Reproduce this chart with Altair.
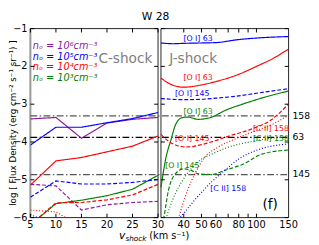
import altair as alt
import pandas as pd

W_L, GAP, W_R, H = 131, 3, 131, 194
W = W_L + GAP + W_R
YDOM = [-6, -1]

# ---------------- data: C-shock (left panel) ----------------
C_V = [5, 10, 15, 20, 25, 30]
C_N6_OI63 = [-3.39, -3.35, -3.90, -3.50, -3.40, -3.35]
C_N5_OI63 = [-4.08, -3.61, -3.61, -3.49, -3.38, -3.22]
C_N4_OI63 = [-5.14, -4.50, -4.41, -4.26, -4.11, -3.84]
C_N3_OI63 = [-6.19, -5.63, -5.54, -5.42, -5.25, -4.88]
C_N6_OI145 = [-5.12, -5.16, -5.80, -5.66, -5.60, -5.57]
C_N5_OI145 = [-5.46, -5.03, -5.11, -5.11, -5.07, -4.99]
C_N4_OI145 = [-6.19, -5.61, -5.60, -5.53, -5.40, -5.12]
C_N4_CII_V = [5, 10, 15]
C_N4_CII = [-5.80, -5.85, -6.25]
C_N5_CII_V = [5, 10]
C_N5_CII = [-5.92, -6.20]

# ---------------- data: J-shock (right panel) ----------------
J_N5_OI63_V = [30, 35, 40, 50, 60, 80, 100, 150]
J_N5_OI63 = [-1.38, -1.40, -1.39, -1.38, -1.37, -1.29, -1.25, -1.21]
J_N4_OI63_V = [30, 35, 40, 50, 60, 80, 100, 120, 150]
J_N4_OI63 = [-2.31, -2.50, -2.55, -2.49, -2.40, -2.21, -2.00, -1.82, -1.54]
J_N5_OI145_V = [30, 40, 50, 60, 80, 100, 150]
J_N5_OI145 = [-2.85, -2.88, -2.87, -2.84, -2.78, -2.71, -2.59]
J_N3_OI63_V = [30, 32, 34, 36, 39, 42, 48, 57, 67, 85, 110, 150]
J_N3_OI63 = [-5.20, -4.40, -3.95, -3.55, -3.36, -3.34, -3.40, -3.34, -3.17, -2.99, -2.82, -2.65]
J_N4_OI145_V = [30, 33, 39, 42, 50, 60, 70, 96, 120, 150]
J_N4_OI145 = [-3.80, -3.98, -4.12, -4.13, -4.07, -3.96, -3.85, -3.64, -3.42, -2.99]
J_N3_OI145_V = [30.5, 31, 33, 36, 40, 44, 48, 57, 67, 85, 107, 150]
J_N3_OI145 = [-6.20, -6.04, -5.27, -4.84, -4.71, -4.75, -4.84, -4.86, -4.75, -4.58, -4.32, -4.21]
J_N4_CII_V = [37, 42, 46, 52, 61, 79, 97, 120, 150]
J_N4_CII = [-6.10, -5.27, -4.84, -4.41, -4.15, -3.89, -3.72, -3.55, -3.29]
J_N3_CII_V = [31.5, 36, 40.5, 48.5, 57, 69, 96, 150]
J_N3_CII = [-6.10, -5.36, -4.93, -4.50, -4.32, -4.15, -3.98, -3.85]
J_N5_CII_V = [37.5, 46, 57, 69, 80, 100, 150]
J_N5_CII = [-6.05, -5.53, -5.05, -4.70, -4.45, -4.22, -4.05]

# observed fluxes (dash-dot lines)
OBS_LABELS = ["158", "63", "145"]
OBS_FLUX = [-3.31, -3.88, -4.86]
OBS_COLORS = ["#555555", "#000000", "#555555"]

# legend
LEG_TEXT = ["nₒ = 10⁶cm⁻³", "nₒ = 10⁵cm⁻³", "nₒ = 10⁴cm⁻³", "nₒ = 10³cm⁻³"]
LEG_Y = [-1.46, -1.75, -2.03, -2.31]

# line labels in J-shock panel
LBL_TEXT = ["[O I] 63", "[O I] 63", "[O I] 145", "[O I] 63", "[O I] 145",
            "[C II] 158", "[C II] 158", "[O I] 145", "[C II] 158"]
LBL_V = [47.9, 47.9, 44.5, 47.9, 44.5, 120, 120, 39.3, 70]
LBL_Y = [-1.28, -2.31, -2.73, -3.22, -3.91, -3.65, -3.91, -4.63, -5.25]

PURPLE, BLUE, RED, GREEN = "#8b1a9b", "#0000ff", "#ff0000", "#008000"
LBL_COLORS = [BLUE, RED, BLUE, GREEN, RED, RED, GREEN, GREEN, BLUE]
LEG_COLORS = [PURPLE, BLUE, RED, GREEN]

Y_TICKS = [-6, -5, -4, -3, -2, -1]
LEFT_XTICKS = [5, 10, 15, 20, 25, 30]
RIGHT_XLABELS = [40, 50, 60, 80, 100, 150]
RIGHT_XTICKS = [40, 50, 60, 70, 80, 90, 100]

DASHES = {"solid": [1, 0], "dashed": [4, 2], "dotted": [1, 2]}


def series(name, v, y, color, dash):
    return pd.DataFrame({"v": v, "flux": y, "series": name, "color": color,
                         "dash": dash, "order": list(range(len(v)))})


left_df = pd.concat([
    series("c6_63", C_V, C_N6_OI63, PURPLE, "solid"),
    series("c5_63", C_V, C_N5_OI63, BLUE, "solid"),
    series("c4_63", C_V, C_N4_OI63, RED, "solid"),
    series("c3_63", C_V, C_N3_OI63, GREEN, "solid"),
    series("c6_145", C_V, C_N6_OI145, PURPLE, "dashed"),
    series("c5_145", C_V, C_N5_OI145, BLUE, "dashed"),
    series("c4_145", C_V, C_N4_OI145, RED, "dashed"),
    series("c4_158", C_N4_CII_V, C_N4_CII, RED, "dotted"),
    series("c5_158", C_N5_CII_V, C_N5_CII, BLUE, "dotted"),
], ignore_index=True)

right_df = pd.concat([
    series("j5_63", J_N5_OI63_V, J_N5_OI63, BLUE, "solid"),
    series("j4_63", J_N4_OI63_V, J_N4_OI63, RED, "solid"),
    series("j3_63", J_N3_OI63_V, J_N3_OI63, GREEN, "solid"),
    series("j5_145", J_N5_OI145_V, J_N5_OI145, BLUE, "dashed"),
    series("j4_145", J_N4_OI145_V, J_N4_OI145, RED, "dashed"),
    series("j3_145", J_N3_OI145_V, J_N3_OI145, GREEN, "dashed"),
    series("j4_158", J_N4_CII_V, J_N4_CII, RED, "dotted"),
    series("j3_158", J_N3_CII_V, J_N3_CII, GREEN, "dotted"),
    series("j5_158", J_N5_CII_V, J_N5_CII, BLUE, "dotted"),
], ignore_index=True)

obs_df = pd.DataFrame({"flux": OBS_FLUX, "label": OBS_LABELS, "color": OBS_COLORS})
leg_df = pd.DataFrame({"v": [5.45] * 4, "flux": LEG_Y, "text": LEG_TEXT, "color": LEG_COLORS})
lbl_df = pd.DataFrame({"v": LBL_V, "flux": LBL_Y, "text": LBL_TEXT, "color": LBL_COLORS})
one = pd.DataFrame({"a": [0]})

ysc = alt.Scale(domain=YDOM, nice=False, zero=False)
xl_s = alt.Scale(domain=[5, 30], range=[0, W_L], nice=False, zero=False)
xr_s = alt.Scale(type="log", domain=[30, 150], range=[W_L + GAP, W], nice=False)

Y = alt.Y("flux:Q", scale=ysc, axis=None)
XL = alt.X("v:Q", scale=xl_s, axis=None)
XR = alt.X("v:Q", scale=xr_s, axis=None)


def line_layers(df, x_enc, interp):
    out = []
    for d, pat in DASHES.items():
        sub = df[df["dash"] == d]
        out.append(alt.Chart(sub).mark_line(clip=True, strokeWidth=1.2, strokeDash=pat,
                                            interpolate=interp).encode(
            x=x_enc, y=Y, detail="series:N",
            color=alt.Color("color:N", scale=None), order="order:Q"))
    return out


layers = []

# frames
for x0, x1 in [(0, W_L), (W_L + GAP, W)]:
    layers.append(alt.Chart(one).mark_rect(fillOpacity=0, stroke="#222", strokeWidth=1).encode(
        x=alt.value(x0), x2=alt.value(x1), y=alt.value(0), y2=alt.value(H)))
layers.append(alt.Chart(one).mark_rule(color="#9a9a9a", strokeWidth=2).encode(
    x=alt.value(0), y=alt.value(0), y2=alt.value(H)))

# observed dash-dot lines
layers.append(alt.Chart(obs_df).mark_rule(strokeWidth=1.3, strokeDash=[7, 2.5, 1.5, 2.5]).encode(
    y=Y, x=alt.value(0), x2=alt.value(W), color=alt.Color("color:N", scale=None)))
layers.append(alt.Chart(obs_df).mark_text(align="left", baseline="middle", fontSize=9.5,
                                          color="#000").encode(
    y=Y, x=alt.value(W + 4), text="label:N"))

# model lines
layers += line_layers(left_df, XL, "linear")
layers += line_layers(right_df, XR, "monotone")

# legend & annotations
layers.append(alt.Chart(leg_df).mark_text(align="left", baseline="middle", fontSize=10,
                                          fontStyle="italic").encode(
    x=XL, y=Y, text="text:N", color=alt.Color("color:N", scale=None)))
layers.append(alt.Chart(pd.DataFrame({"v": [23.6], "flux": [-1.82], "t": ["C-shock"]})).mark_text(
    fontSize=14, color="#808080", baseline="middle").encode(x=XL, y=Y, text="t:N"))
layers.append(alt.Chart(pd.DataFrame({"v": [45], "flux": [-1.82], "t": ["J-shock"]})).mark_text(
    fontSize=14, color="#808080", baseline="middle").encode(x=XR, y=Y, text="t:N"))
layers.append(alt.Chart(pd.DataFrame({"v": [118.8], "flux": [-5.66], "t": ["(f)"]})).mark_text(
    fontSize=14, color="#000", baseline="middle").encode(x=XR, y=Y, text="t:N"))
layers.append(alt.Chart(lbl_df).mark_text(fontSize=8, baseline="middle").encode(
    x=XR, y=Y, text="text:N", color=alt.Color("color:N", scale=None)))

# inward ticks
lxt = pd.DataFrame({"v": LEFT_XTICKS})
rxt = pd.DataFrame({"v": RIGHT_XTICKS})
lyt = pd.DataFrame({"flux": Y_TICKS})
for df_, xe in [(lxt, XL), (rxt, XR)]:
    layers.append(alt.Chart(df_).mark_rule(color="#000").encode(
        x=xe, y=alt.value(H), y2=alt.value(H - 4)))
    layers.append(alt.Chart(df_).mark_rule(color="#000").encode(
        x=xe, y=alt.value(0), y2=alt.value(4)))
for x0, x1 in [(0, 4), (W_L - 4, W_L), (W_L + GAP, W_L + GAP + 4), (W - 4, W)]:
    layers.append(alt.Chart(lyt).mark_rule(color="#000").encode(
        y=Y, x=alt.value(x0), x2=alt.value(x1)))

# tick labels
layers.append(alt.Chart(lxt).mark_text(fontSize=10, baseline="middle", color="#000").encode(
    x=XL, y=alt.value(H + 8), text=alt.Text("v:Q", format="d")))
layers.append(alt.Chart(pd.DataFrame({"v": RIGHT_XLABELS})).mark_text(
    fontSize=10, baseline="middle", color="#000").encode(
    x=XR, y=alt.value(H + 8), text=alt.Text("v:Q", format="d")))
layers.append(alt.Chart(lyt).mark_text(fontSize=10, baseline="middle", align="right",
                                       color="#000").encode(
    y=Y, x=alt.value(-3), text=alt.Text("flux:Q", format="d")))

# axis titles
layers.append(alt.Chart(pd.DataFrame({"t": ["log [ Flux Density (erg cm⁻² s⁻¹ sr⁻¹) ]"]})).mark_text(
    fontSize=9, angle=270, align="center", baseline="middle", color="#000").encode(
    x=alt.value(-18), y=alt.value(H / 2), text="t:N"))
layers.append(alt.Chart(pd.DataFrame({"t": ["v"]})).mark_text(
    align="left", baseline="alphabetic", fontSize=11, fontStyle="italic", color="#000").encode(
    x=alt.value(91), y=alt.value(H + 22), text="t:N"))
layers.append(alt.Chart(pd.DataFrame({"t": ["shock"]})).mark_text(
    align="left", baseline="alphabetic", fontSize=7.5, fontStyle="italic", color="#000").encode(
    x=alt.value(97.5), y=alt.value(H + 24), text="t:N"))
layers.append(alt.Chart(pd.DataFrame({"t": ["(km s⁻¹)"]})).mark_text(
    align="left", baseline="alphabetic", fontSize=10, color="#000").encode(
    x=alt.value(122), y=alt.value(H + 22), text="t:N"))

chart = alt.layer(*layers).resolve_scale(x="independent").properties(
    width=W, height=H,
    title=alt.TitleParams("W 28", fontSize=11, fontWeight="normal", offset=2, anchor="middle",
                          frame="group", dx=-4, color="#000"),
).configure(font="DejaVu Sans", padding=0).configure_view(stroke=None)

chart.save("out.html", embed_options={"renderer": "svg", "actions": False})
